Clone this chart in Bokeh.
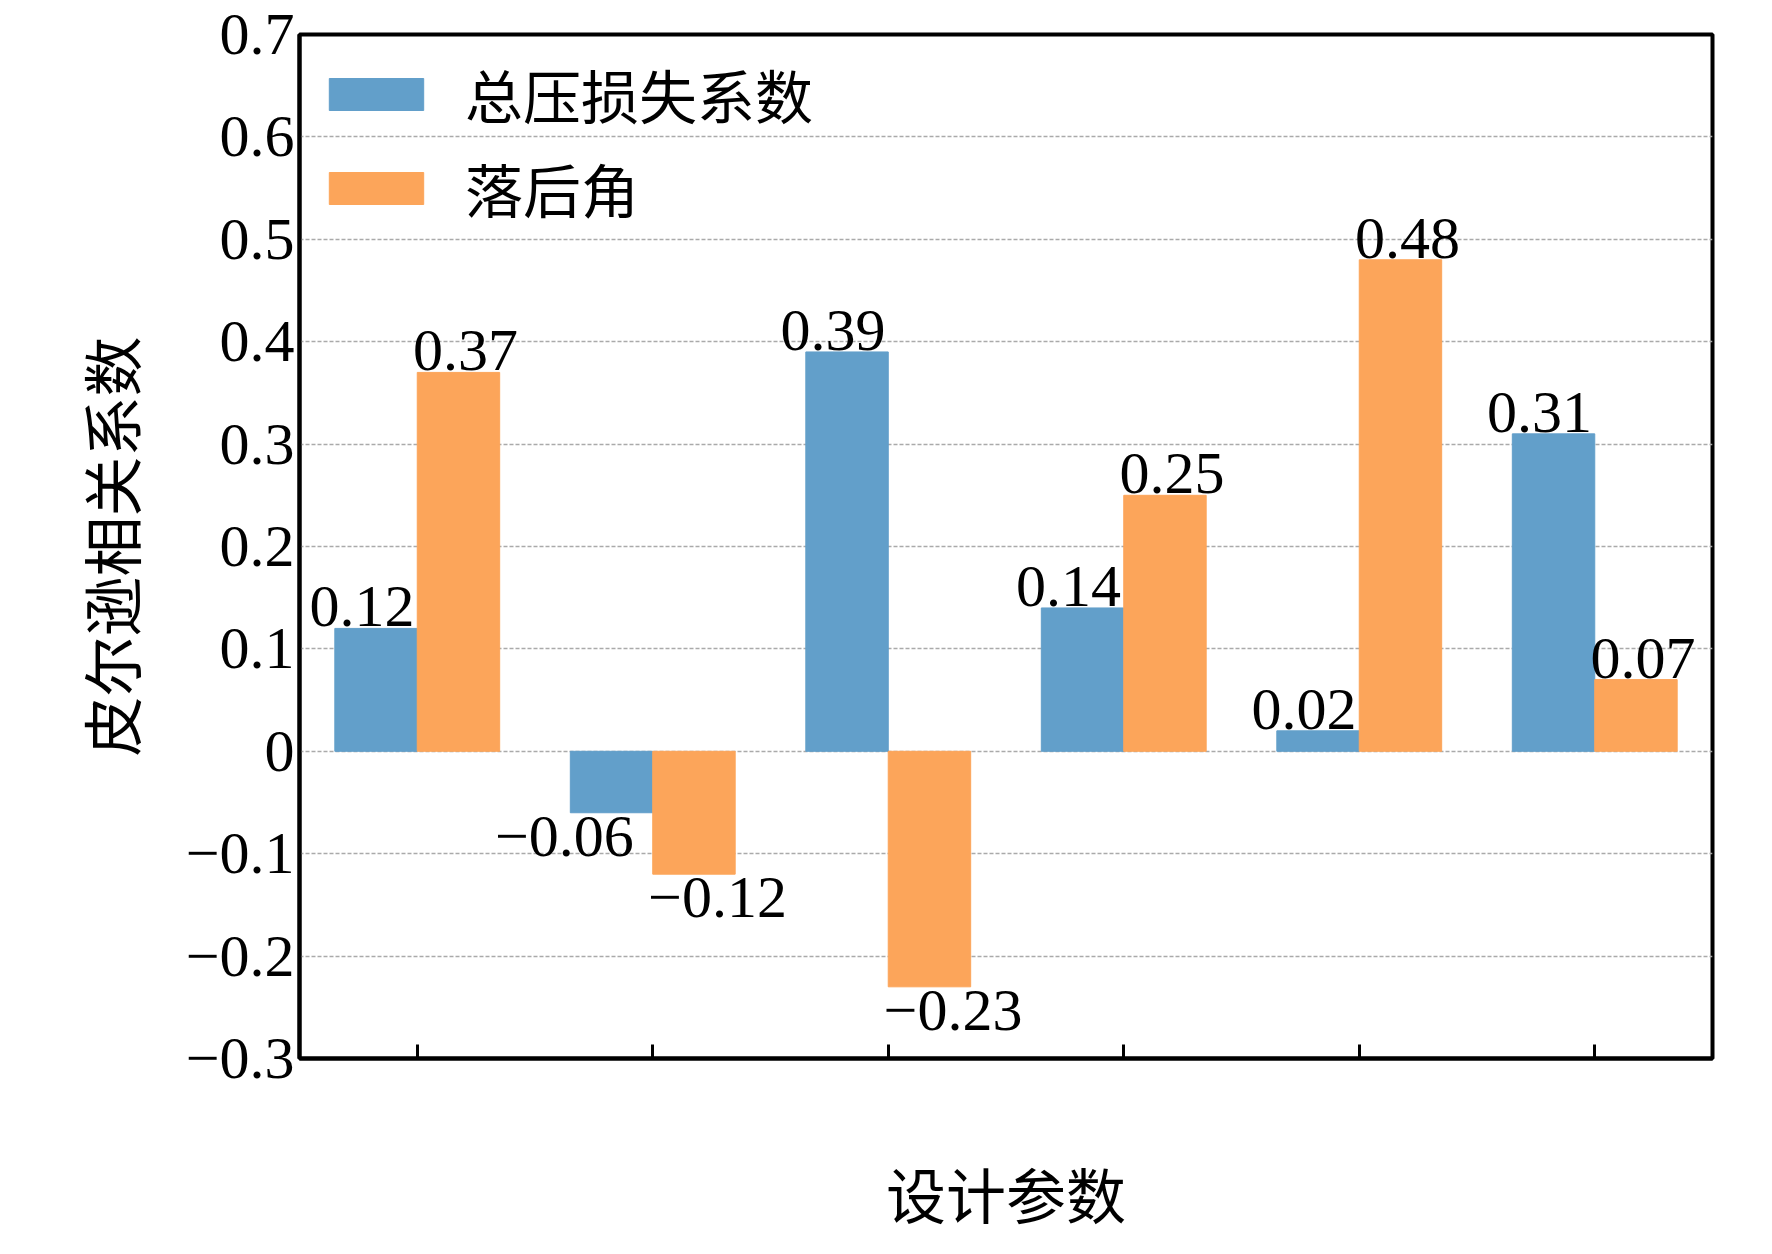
from bokeh.plotting import figure
from bokeh.models import FactorRange, Label, Legend, LegendItem, FixedTicker
from bokeh.embed import file_html
from bokeh.resources import INLINE

params = ["b1", "i", "sigma", "tb", "theta", "Ma"]
loss = [0.12, -0.06, 0.39, 0.14, 0.02, 0.31]
lag = [0.37, -0.12, -0.23, 0.25, 0.48, 0.07]
y_ticks = [-0.3, -0.2, -0.1, 0, 0.1, 0.2, 0.3, 0.4, 0.5, 0.6, 0.7]

SERIF = "Liberation Serif"
CJK = "Noto Sans CJK SC"
BLUE = "#629fca"
ORANGE = "#fca55a"

p = figure(x_range=FactorRange(*params, range_padding=0), y_range=(-0.3, 0.7),
           width=1756, height=1238, output_backend="svg", toolbar_location=None,
           min_border_left=299, min_border_right=44, min_border_top=34, min_border_bottom=180)

xc = [i + 0.5 for i in range(len(params))]
r1 = p.vbar(x=[c - 0.175 for c in xc], top=loss, width=0.35, color=BLUE)
r2 = p.vbar(x=[c + 0.175 for c in xc], top=lag, width=0.35, color=ORANGE)


def value_label(xpos, v):
    p.add_layout(Label(x=xpos, y=v, text=f"{v:.2f}".replace("-", "−"),
                       text_font=SERIF, text_font_size="60px", text_align="center",
                       text_color="black",
                       text_baseline="top" if v < 0 else "bottom",
                       y_offset=-4 if v < 0 else 2))


for c, v in zip(xc, loss):
    value_label(c - 0.175 - (0.2 if v < 0 else 0.06), v)
for c, v in zip(xc, lag):
    value_label(c + 0.175 + (0.1 if v < 0 else 0.03), v)

# category labels drawn as text so subscripts work
names = [("β", "1"), ("i", ""), ("σ", ""), ("t", "b"), ("θ", ""), ("Ma", "")]
for c, (main, sub) in zip(xc, names):
    p.add_layout(Label(x=c, y=-0.3, y_offset=-26, text=main, text_color="black",
                       text_font=SERIF, text_font_style="italic", text_font_size="62px",
                       text_align="center", text_baseline="top"))
    if sub:
        p.add_layout(Label(x=c, x_offset=12, y=-0.3, y_offset=-68, text=sub, text_color="black",
                           text_font=SERIF, text_font_size="38px",
                           text_align="left", text_baseline="top"))

p.xaxis.major_label_text_alpha = 0
p.xaxis.major_label_text_font_size = "20px"
p.xaxis.major_tick_in = 14
p.xaxis.major_tick_out = 0
p.xaxis.major_tick_line_width = 3
p.xaxis.axis_label = "设计参数"
p.xaxis.axis_label_text_font = CJK
p.xaxis.axis_label_text_font_size = "60px"
p.xaxis.axis_label_text_font_style = "normal"
p.xaxis.axis_label_text_color = "black"
p.xaxis.axis_label_standoff = 90

p.yaxis.ticker = FixedTicker(ticks=y_ticks)
p.yaxis.major_label_overrides = {t: ("0" if t == 0 else f"{t:.1f}".replace("-", "−")) for t in y_ticks}
p.yaxis.major_label_text_font = SERIF
p.yaxis.major_label_text_font_size = "60px"
p.yaxis.major_label_text_color = "black"
p.yaxis.major_tick_out = 0
p.yaxis.major_tick_in = 0
p.yaxis.minor_tick_out = 0
p.yaxis.minor_tick_in = 0
p.yaxis.axis_label = "皮尔逊相关系数"
p.yaxis.axis_label_text_font = CJK
p.yaxis.axis_label_text_font_size = "60px"
p.yaxis.axis_label_text_font_style = "normal"
p.yaxis.axis_label_text_color = "black"
p.yaxis.axis_label_standoff = 30

for ax in (p.xaxis, p.yaxis):
    ax.axis_line_width = 4
    ax.axis_line_color = "black"

p.outline_line_color = "black"
p.outline_line_width = 4
p.outline_line_alpha = 1
p.xgrid.grid_line_color = None
p.ygrid.grid_line_color = "#aaaaaa"
p.ygrid.grid_line_dash = "4 2"
p.ygrid.grid_line_width = 1.5

legend = Legend(items=[LegendItem(label="总压损失系数", renderers=[r1]),
                       LegendItem(label="落后角", renderers=[r2])],
                location="top_left", border_line_color=None, background_fill_alpha=0,
                label_text_font=CJK, label_text_font_size="58px", label_text_color="black",
                glyph_width=118, glyph_height=40, label_standoff=30, spacing=10,
                margin=18, padding=20)
p.add_layout(legend)

open("out.html", "w").write(file_html(p, INLINE))
